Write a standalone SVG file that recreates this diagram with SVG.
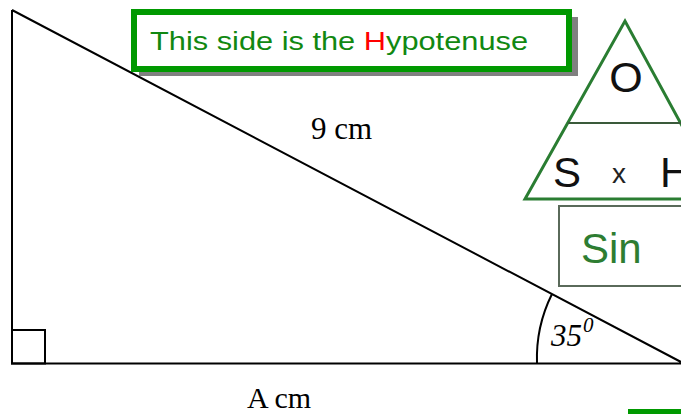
<svg xmlns="http://www.w3.org/2000/svg" width="681" height="414" viewBox="0 0 681 414">
<style>
.ln{stroke:#000;stroke-width:2;fill:none}
.serif{font-family:"Liberation Serif","Times New Roman",serif;fill:#000}
.sans{font-family:"Liberation Sans",Arial,sans-serif}
.tri{stroke:#2a7d32;stroke-width:3;fill:none;stroke-linejoin:miter}
</style>
<rect width="681" height="414" fill="#fff"/>
<g id="triangle">
<path class="ln" d="M12,10 L12,363.5 L681,363.5 M12,10 L681,362"/>
<rect class="ln" x="12" y="330" width="33" height="33.5"/>
</g>
<g id="angle">
<path class="ln" d="M537,363.5 A144,144 0 0 1 552,294"/>
<text class="serif" x="551" y="346" font-size="31" font-style="italic">35</text>
<text class="serif" x="583" y="332" font-size="21" font-style="italic">0</text>
</g>
<g id="hyp-label">
<text class="serif" x="311" y="139" font-size="31">9 cm</text>
</g>
<g id="adj-label">
<text class="serif" x="247" y="408" font-size="30">A cm</text>
</g>
<g id="callout">
<rect x="139" y="17" width="439" height="59" fill="#808080"/>
<rect x="134" y="12" width="435" height="57" fill="#fff" stroke="#009900" stroke-width="6"/>
<text class="sans" x="150" y="50" font-size="26" fill="#118811" textLength="378" lengthAdjust="spacingAndGlyphs">This side is the <tspan fill="#ff0000">H</tspan>ypotenuse</text>
</g>
<g id="formula-triangle">
<path class="tri" d="M722,199 L625,21 L525,199 Z"/>
<line x1="568" y1="123" x2="681" y2="123" stroke="#3a5a3a" stroke-width="2"/>
<text class="sans" x="626" y="92" font-size="43" fill="#111" text-anchor="middle">O</text>
<text class="sans" x="553" y="187" font-size="42" fill="#111">S</text>
<text class="sans" x="612" y="183" font-size="28" fill="#222">x</text>
<text class="sans" x="660" y="187" font-size="42" fill="#111">H</text>
</g>
<g id="sin-box">
<rect x="559" y="206" width="140" height="80" fill="#fff" stroke="#5a6a5a" stroke-width="2"/>
<text class="sans" x="581" y="263" font-size="42" fill="#2e7d32">Sin</text>
</g>
<rect x="628" y="409" width="53" height="5" fill="#009900"/>
</svg>
